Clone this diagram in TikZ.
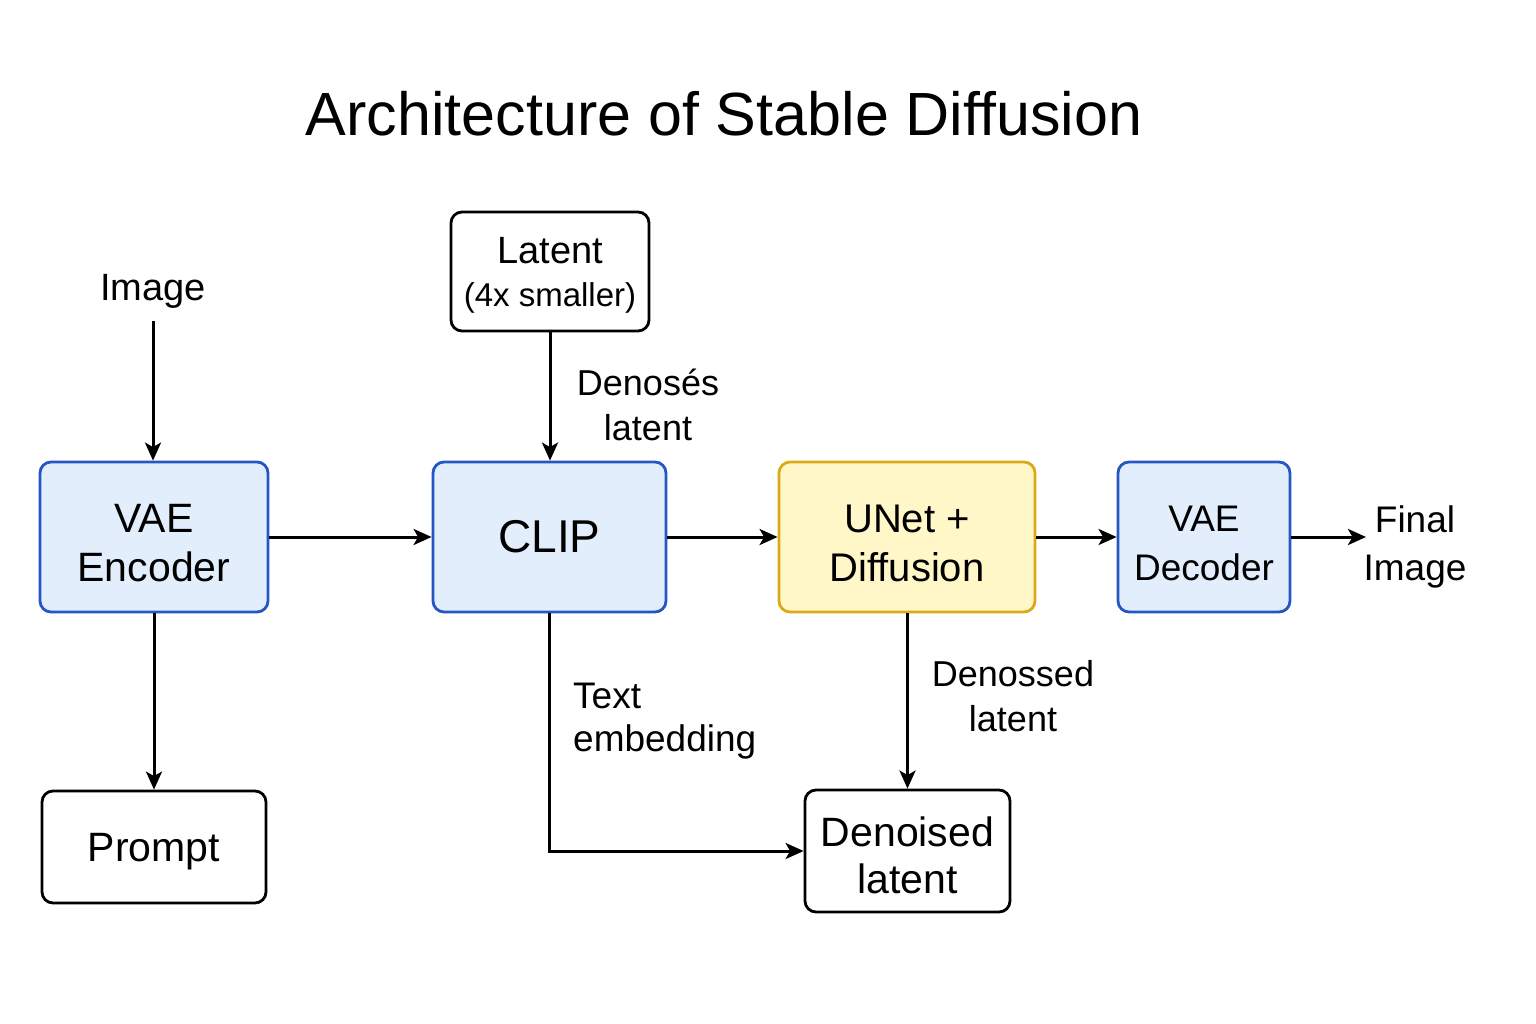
\documentclass[tikz,border=0pt]{standalone}
\usepackage{fontspec}
\setmainfont{Liberation Sans}
\usetikzlibrary{arrows.meta,positioning}
\definecolor{bluefill}{HTML}{E3EEFC}
\definecolor{blueline}{HTML}{2457C5}
\definecolor{yelfill}{HTML}{FFF7C8}
\definecolor{yelline}{HTML}{DCAA18}
\tikzset{
  box/.style={draw, line width=2.8pt, rounded corners=11pt, inner sep=0pt},
  bluebox/.style={box, draw=blueline, fill=bluefill},
  yelbox/.style={box, draw=yelline, fill=yelfill},
  whitebox/.style={box, draw=black, fill=white},
  conn/.style={line width=3pt, -{Stealth[length=18pt,width=16pt,inset=4.5pt]}},
  lbl/.style={inner sep=0pt, align=center},
}
\begin{document}
\begin{tikzpicture}[x=1pt,y=-1pt]
\useasboundingbox (0,0) rectangle (1536,1024);
\fill[white] (0,0) rectangle (1536,1024);

\node[lbl, font=\fontsize{61}{64}\selectfont] (title) at (724,114) {Architecture of Stable Diffusion};

% boxes
\node[bluebox, minimum width=228pt, minimum height=150pt] (enc) at (154,537) {};
\node[bluebox, minimum width=233pt, minimum height=150pt] (clip) at (549.5,537) {};
\node[yelbox, minimum width=256pt, minimum height=150pt] (unet) at (907,537) {};
\node[bluebox, minimum width=172pt, minimum height=150pt] (dec) at (1204,537) {};
\node[whitebox, minimum width=198pt, minimum height=119pt] (lat) at (550,271.5) {};
\node[whitebox, minimum width=224pt, minimum height=112pt] (prompt) at (154,847) {};
\node[whitebox, minimum width=205pt, minimum height=122pt] (den) at (907.5,851) {};

% box texts
\node[lbl, font=\fontsize{41}{49}\selectfont] (encT) at (154,543) {VAE\\Encoder};
\node[lbl, font=\fontsize{46}{50}\selectfont] (clipT) at (549.5,537) {CLIP};
\node[lbl, font=\fontsize{40}{49}\selectfont] (unetT) at (907,543) {UNet +\\Diffusion};
\node[lbl, font=\fontsize{37}{49}\selectfont] (decT) at (1204,543) {VAE\\Decoder};
\node[lbl, font=\fontsize{38}{40}\selectfont] (latT1) at (550,251) {Latent};
\node[lbl, font=\fontsize{33}{34}\selectfont] (latT2) at (550,298) {(4x smaller)};
\node[lbl, font=\fontsize{41}{48}\selectfont] (promptT) at (154,852) {Prompt};
\node[lbl, font=\fontsize{41}{47}\selectfont] (denT) at (907.5,855) {Denoised\\latent};

% labels
\node[lbl, font=\fontsize{38}{44}\selectfont] (img) at (153,291) {Image};
\node[lbl, font=\fontsize{36}{45}\selectfont] (dlab) at (648,405) {Denosés\\latent};
\node[lbl, font=\fontsize{37}{43}\selectfont, align=left, anchor=west] (tlab) at (573,721) {Text\\embedding};
\node[lbl, font=\fontsize{36}{45}\selectfont] (dlab2) at (1013,696) {Denossed\\latent};
\node[lbl, font=\fontsize{37}{48}\selectfont] (final) at (1415,547) {Final\\Image};
\coordinate (finalin) at (1366,537);
\coordinate (imgout) at (153,321);

% connectors
\draw[conn] (imgout) -- (enc.north -| imgout);
\draw[conn] (enc.east) -- (clip.west);
\draw[conn] (lat.south) -- (clip.north -| lat.south);
\draw[conn] (clip.east) -- (unet.west);
\draw[conn] (unet.east) -- (dec.west);
\draw[conn] (dec.east) -- (finalin);
\draw[conn] (enc.south) -- (prompt.north);
\draw[conn] (clip.south) |- (den.west);
\draw[conn] (unet.south -| den.north) -- (den.north);
\end{tikzpicture}
\end{document}
